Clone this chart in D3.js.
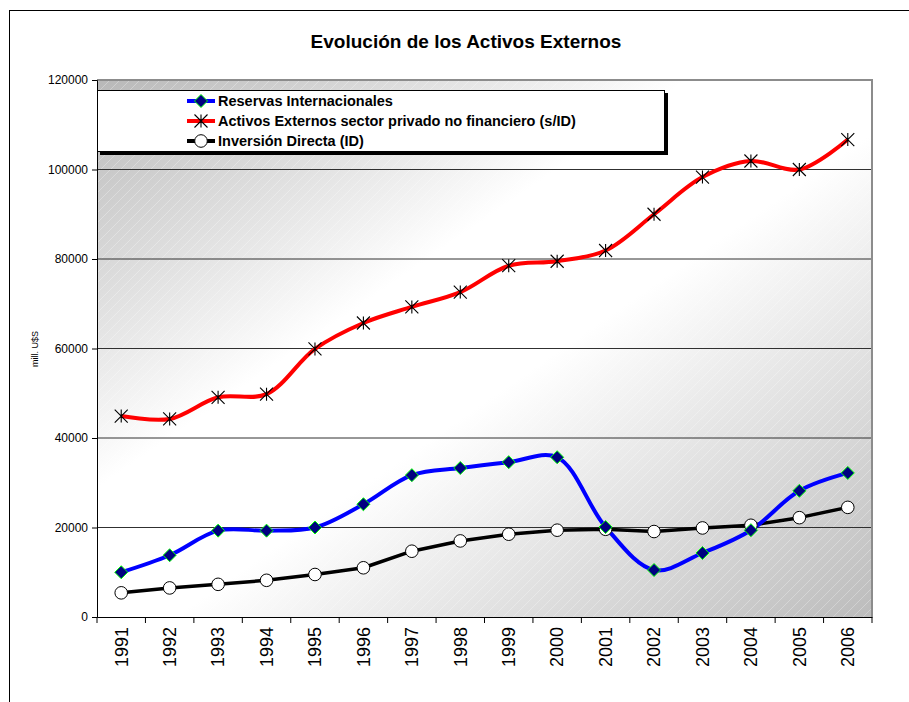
<!DOCTYPE html>
<html><head><meta charset="utf-8">
<script src="https://cdn.jsdelivr.net/npm/d3@7"></script>
<style>body{margin:0;background:#fff;font-family:"Liberation Sans",Arial,sans-serif}</style>
</head><body><svg id="c" width="909" height="702"></svg>
<script>
const years = ["1991","1992","1993","1994","1995","1996","1997","1998","1999","2000","2001","2002","2003","2004","2005","2006"];
const reservas = [10000,13800,19300,19300,20000,25200,31700,33300,34600,35700,20100,10500,14300,19400,28200,32200];
const activos = [44900,44250,49100,49800,59900,65700,69300,72600,78500,79500,81900,90000,98300,101900,100000,106700];
const inversion = [5400,6500,7300,8200,9500,11000,14700,17000,18500,19400,19600,19100,19900,20500,22200,24500];
const yTicks = [0,20000,40000,60000,80000,100000,120000];
const seriesNames = ["Reservas Internacionales","Activos Externos sector privado no financiero (s/ID)","Inversión Directa (ID)"];
const title = "Evolución de los Activos Externos";
const yTitle = "mill. U$S";

const svg = d3.select("#c");
const L=97, R=872, T=80, B=617;
const x = d3.scaleBand().domain(years).range([L,R]);
const y = d3.scaleLinear().domain([0,120000]).range([B,T]);
const defs = svg.append("defs");
const g = defs.append("linearGradient").attr("id","bg").attr("x1",0).attr("y1",0).attr("x2",1).attr("y2",1);
g.append("stop").attr("offset",0).attr("stop-color","#b8b8b8");
g.append("stop").attr("offset",0.38).attr("stop-color","#ffffff");
g.append("stop").attr("offset",0.55).attr("stop-color","#ffffff");
g.append("stop").attr("offset",1).attr("stop-color","#bcbcbc");
const pat = defs.append("pattern").attr("id","hatch").attr("width",10).attr("height",10).attr("patternUnits","userSpaceOnUse");
pat.append("path").attr("d","M-1,11 L11,-1 M-6,6 L6,-6 M4,16 L16,4").attr("stroke","#ffffff").attr("stroke-opacity",0.35).attr("stroke-width",0.8);

// outer frame
svg.append("rect").attr("x",9.5).attr("y",10.5).attr("width",1000).attr("height",1000).attr("fill","none").attr("stroke","#000").attr("stroke-width",1);

// title
svg.append("text").attr("x",466).attr("y",48).attr("text-anchor","middle").attr("font-size",19).attr("font-weight","bold").text(title);

// plot area
svg.append("rect").attr("x",L).attr("y",T).attr("width",R-L).attr("height",B-T).attr("fill","url(#bg)");
svg.append("rect").attr("x",L).attr("y",T).attr("width",R-L).attr("height",B-T).attr("fill","url(#hatch)");
// gridlines
svg.append("g").selectAll("line").data(yTicks.filter(d=>d>0&&d<120000)).join("line")
  .attr("x1",L).attr("x2",R).attr("y1",d=>y(d)).attr("y2",d=>y(d)).attr("stroke","#303030").attr("stroke-width",1);
// border top/right
svg.append("path").attr("d",`M${L},${T}H${R}V${B}`).attr("fill","none").attr("stroke","#8c8c8c").attr("stroke-width",2);

// axes
const ya = svg.append("g").attr("transform",`translate(${L},0)`).call(d3.axisLeft(y).tickValues(yTicks).tickSize(5).tickPadding(4).tickFormat(d3.format("d")));
ya.selectAll("text").attr("font-size",12).attr("font-family","Liberation Sans, Arial").attr("fill","#000");
ya.select(".domain").attr("stroke","#000");
const xa = svg.append("g").attr("transform",`translate(0,${B})`).call(d3.axisBottom(x).tickSize(0).tickPadding(0));
xa.select(".domain").attr("stroke","#000");
xa.selectAll(".tick line").remove();
xa.selectAll(".tick text").attr("font-size",18).attr("font-family","Liberation Sans, Arial").attr("fill","#000")
  .attr("text-anchor","end").attr("dy","0.35em").attr("transform","translate(0,10) rotate(-90)").attr("x",0).attr("y",0);
svg.append("g").selectAll("line").data(years.concat(["end"])).join("line")
  .attr("x1",(d,i)=>L+i*x.step()).attr("x2",(d,i)=>L+i*x.step()).attr("y1",B).attr("y2",B+6).attr("stroke","#000");

svg.append("text").attr("transform","translate(38,349) rotate(-90)").attr("text-anchor","middle").attr("font-size",9).text(yTitle);

const cx = d=>x(d)+x.bandwidth()/2;
function drawLine(vals,color,w,curve){
  svg.append("path").datum(vals).attr("fill","none").attr("stroke",color).attr("stroke-width",w)
   .attr("stroke-linejoin","round").attr("d",d3.line().x((d,i)=>cx(years[i])).y(d=>y(d)).curve(curve));
}
function diamond(sel,px,py){ const s=6.5; sel.append("path").attr("d",`M${px},${py-s}L${px+s},${py}L${px},${py+s}L${px-s},${py}Z`).attr("fill","#000080").attr("stroke","#00ff00").attr("stroke-width",1);}
function star(sel,px,py){ const s=6.5; sel.append("path").attr("d",`M${px-s},${py-s}L${px+s},${py+s}M${px-s},${py+s}L${px+s},${py-s}M${px},${py-s}L${px},${py+s}`).attr("stroke","#000").attr("stroke-width",1.1).attr("fill","none");}
function circ(sel,px,py){ sel.append("circle").attr("cx",px).attr("cy",py).attr("r",6.3).attr("fill","#fff").attr("stroke","#000").attr("stroke-width",1);}

drawLine(activos,"#ff0000",4,d3.curveCatmullRom.alpha(0.5));
drawLine(inversion,"#000000",3.5,d3.curveLinear);
drawLine(reservas,"#0000ff",4,d3.curveCatmullRom.alpha(0.5));
const mk = svg.append("g");
activos.forEach((v,i)=>star(mk,cx(years[i]),y(v)));
inversion.forEach((v,i)=>circ(mk,cx(years[i]),y(v)));
reservas.forEach((v,i)=>diamond(mk,cx(years[i]),y(v)));

// legend
const lg = svg.append("g");
lg.append("rect").attr("x",100).attr("y",93).attr("width",568).attr("height",62).attr("fill","#000");
lg.append("rect").attr("x",97.5).attr("y",90.5).attr("width",567).attr("height",61).attr("fill","#fff").attr("stroke","#000").attr("stroke-width",1);
const cols=["#0000ff","#ff0000","#000000"], fns=[diamond,star,circ];
seriesNames.forEach((n,i)=>{
  const yy=101+i*20;
  lg.append("line").attr("x1",187).attr("x2",215).attr("y1",yy).attr("y2",yy).attr("stroke",cols[i]).attr("stroke-width",4);
  fns[i](lg,201,yy);
  lg.append("text").attr("x",218).attr("y",yy).attr("dy","0.36em").attr("font-size",14.5).attr("font-weight","bold").text(n);
});
</script></body></html>
